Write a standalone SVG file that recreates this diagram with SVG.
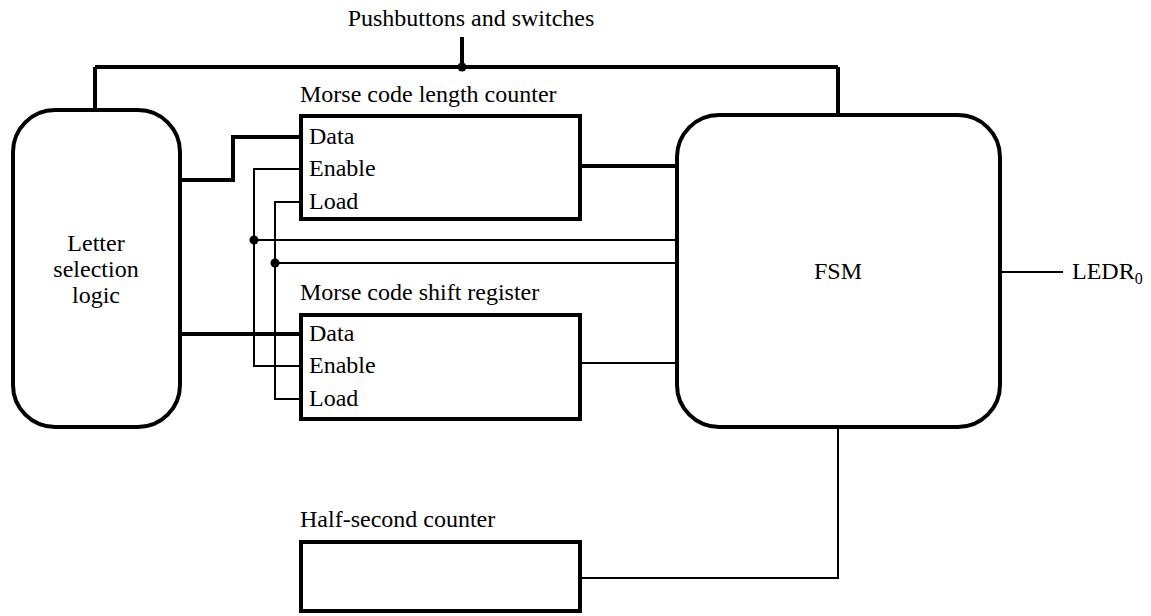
<svg xmlns="http://www.w3.org/2000/svg" width="1151" height="616" viewBox="0 0 1151 616">
<style>
text{font-family:"Liberation Serif","Times New Roman",serif;font-size:24px;fill:#000}
.box{fill:#fff;stroke:#000;stroke-width:4}
.thick{fill:none;stroke:#000;stroke-width:4}
.thin{fill:none;stroke:#000;stroke-width:2}
.dot{fill:#000}
</style>
<rect width="1151" height="616" fill="#fff"/>
<g id="connectors">
<path class="thick" d="M462,37V67M95,67H838M95,67V110M838,67V115"/>
<circle class="dot" cx="462" cy="67" r="4.5"/>
<path class="thick" d="M180,180H233V137H300"/>
<path class="thick" d="M180,334H300"/>
<path class="thick" d="M581,166H677"/>
<path class="thin" d="M300,169H254V366H300"/>
<path class="thin" d="M300,202H275V399H300"/>
<path class="thin" d="M254,240H677M275,263H677"/>
<circle class="dot" cx="254" cy="240" r="4.5"/>
<circle class="dot" cx="275" cy="263" r="4.5"/>
<path class="thin" d="M581,363H677"/>
<path class="thin" d="M1000,272H1063"/>
<path class="thin" d="M838,427V578H581"/>
</g>
<g id="pushbuttons"><text x="471" y="26" text-anchor="middle">Pushbuttons and switches</text></g>
<g id="letter">
<rect class="box" x="13" y="110" width="167" height="317" rx="42"/>
<text x="96" y="251" text-anchor="middle">Letter</text>
<text x="96" y="277" text-anchor="middle">selection</text>
<text x="96" y="303" text-anchor="middle">logic</text>
</g>
<g id="length-counter">
<text x="300" y="102">Morse code length counter</text>
<rect class="box" x="301" y="116" width="279" height="103"/>
<text x="309" y="144">Data</text>
<text x="309" y="176">Enable</text>
<text x="309" y="209">Load</text>
</g>
<g id="shift-register">
<text x="300" y="300">Morse code shift register</text>
<rect class="box" x="301" y="315" width="279" height="104"/>
<text x="309" y="341">Data</text>
<text x="309" y="373">Enable</text>
<text x="309" y="406">Load</text>
</g>
<g id="fsm">
<rect class="box" x="677" y="115" width="323" height="312" rx="42"/>
<text x="838" y="279" text-anchor="middle">FSM</text>
</g>
<g id="ledr"><text x="1072" y="279">LEDR<tspan font-size="16" dy="5">0</tspan></text></g>
<g id="half-second">
<text x="300" y="527">Half-second counter</text>
<rect class="box" x="301" y="542" width="279" height="69"/>
</g>
</svg>
